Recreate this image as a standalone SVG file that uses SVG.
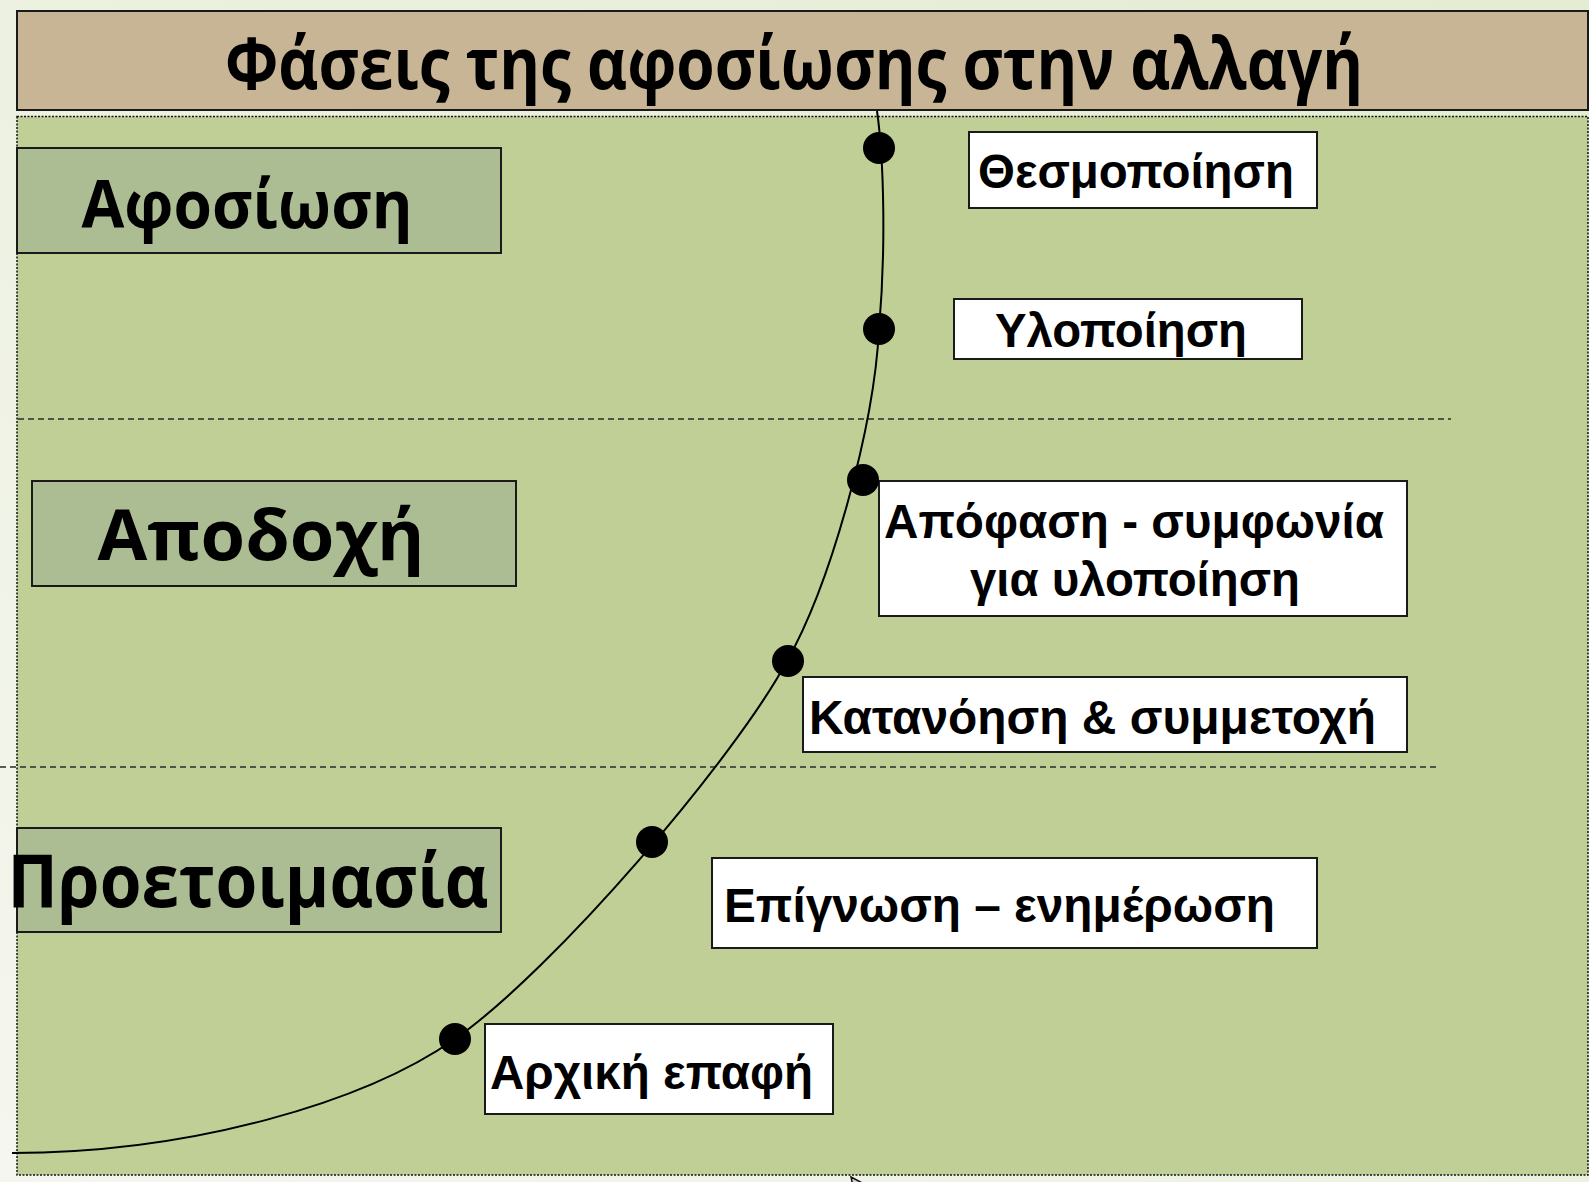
<svg xmlns="http://www.w3.org/2000/svg" width="1589" height="1182" viewBox="0 0 1589 1182">
  <defs>
    <linearGradient id="bg" x1="1" y1="0" x2="0" y2="1">
      <stop offset="0" stop-color="#e4ecd2"/>
      <stop offset="1" stop-color="#f5f6ef"/>
    </linearGradient>
    <style>
      .stage { fill: #acbc93; stroke: #1a1a1a; stroke-width: 2; }
      .label { fill: #ffffff; stroke: #1a1a1a; stroke-width: 2; }
      .stageText { font-family: "Open Sans", "Noto Sans", sans-serif; font-weight: bold; fill: #000; }
      .labelText { font-family: "Liberation Sans", Arial, sans-serif; font-weight: bold; font-size: 48px; fill: #000; }
      .dot { fill: #000; }
      .sep { stroke: #2a2a2a; stroke-width: 1.5; stroke-dasharray: 6 4; fill: none; }
      .curve { stroke: #000; stroke-width: 2; fill: none; }
    </style>
  </defs>

  <rect x="0" y="0" width="1589" height="1182" fill="url(#bg)"/>

  <g id="title">
    <rect x="17" y="11" width="1571" height="99" fill="#c8b595" stroke="#1a1a1a" stroke-width="2"/>
    <text x="794" y="89" text-anchor="middle" font-family="'Open Sans', 'Noto Sans', sans-serif" font-weight="bold" font-size="71" textLength="1138" lengthAdjust="spacingAndGlyphs">Φάσεις της αφοσίωσης στην αλλαγή</text>
  </g>

  <g id="panel">
    <rect x="17" y="116.5" width="1571" height="1058.5" fill="#c0cf95" stroke="#111" stroke-width="1.5" stroke-dasharray="2 1.5"/>
  </g>

  <g id="separators">
    <line class="sep" x1="18" y1="419" x2="1451" y2="419"/>
    <line class="sep" x1="0" y1="767" x2="1436" y2="767"/>
  </g>

  <g id="stage-commitment">
    <rect class="stage" x="17" y="148" width="484" height="105"/>
    <text class="stageText" x="247" y="228" text-anchor="middle" font-size="66" textLength="331" lengthAdjust="spacingAndGlyphs">Αφοσίωση</text>
  </g>
  <g id="stage-acceptance">
    <rect class="stage" x="32" y="481" width="484" height="105"/>
    <text class="stageText" x="261" y="560" text-anchor="middle" font-size="70" textLength="327" lengthAdjust="spacingAndGlyphs">Αποδοχή</text>
  </g>
  <g id="stage-preparation">
    <rect class="stage" x="17" y="828" width="484" height="104"/>
    <text class="stageText" x="248" y="907" text-anchor="middle" font-size="74" textLength="481" lengthAdjust="spacingAndGlyphs">Προετοιμασία</text>
  </g>

  <g id="connectors">
    <path class="curve" d="M12,1153 C192,1153 365,1102 455,1039 C555,969 735,758 787,661 C830,585 874,429 879,329 C886,250 884,160 877,111"/>
  </g>

  <g id="node-institutionalization">
    <rect class="label" x="969" y="132" width="348" height="76"/>
    <text class="labelText" x="978" y="188" textLength="316" lengthAdjust="spacingAndGlyphs">Θεσμοποίηση</text>
    <circle class="dot" cx="879" cy="148" r="16"/>
  </g>
  <g id="node-implementation">
    <rect class="label" x="954" y="299" width="348" height="60"/>
    <text class="labelText" x="995" y="347" textLength="252" lengthAdjust="spacingAndGlyphs">Υλοποίηση</text>
    <circle class="dot" cx="879" cy="329" r="16"/>
  </g>
  <g id="node-decision">
    <rect class="label" x="879" y="481" width="528" height="135"/>
    <text class="labelText" x="884" y="538" textLength="500" lengthAdjust="spacingAndGlyphs">Απόφαση - συμφωνία</text>
    <text class="labelText" x="970" y="596" textLength="330" lengthAdjust="spacingAndGlyphs">για υλοποίηση</text>
    <circle class="dot" cx="863" cy="480" r="16"/>
  </g>
  <g id="node-understanding">
    <rect class="label" x="803" y="677" width="604" height="75"/>
    <text class="labelText" x="809" y="734" textLength="567" lengthAdjust="spacingAndGlyphs">Κατανόηση &amp; συμμετοχή</text>
    <circle class="dot" cx="788" cy="661" r="16"/>
  </g>
  <g id="node-awareness">
    <rect class="label" x="712" y="858" width="605" height="90"/>
    <text class="labelText" x="724" y="922" textLength="551" lengthAdjust="spacingAndGlyphs">Επίγνωση – ενημέρωση</text>
    <circle class="dot" cx="652" cy="842" r="16"/>
  </g>
  <g id="node-contact">
    <rect class="label" x="485" y="1024" width="348" height="90"/>
    <text class="labelText" x="490" y="1089" textLength="323" lengthAdjust="spacingAndGlyphs">Αρχική επαφή</text>
    <circle class="dot" cx="455" cy="1039" r="16"/>
  </g>

  <g id="pointer">
    <polygon points="851,1177 868,1186 853,1186" fill="#d0d0d0" stroke="#111" stroke-width="1.5"/>
  </g>
</svg>
